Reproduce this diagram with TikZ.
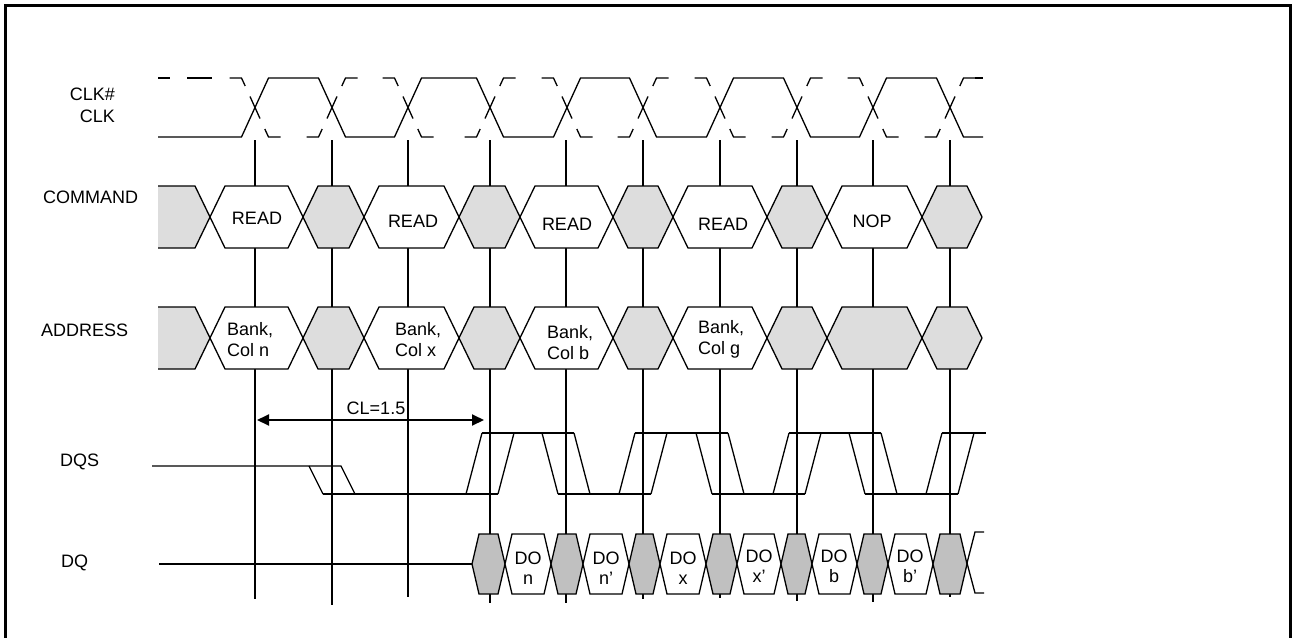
\documentclass[tikz,border=0pt]{standalone}
\usepackage{fontspec}
\setmainfont{Liberation Sans}
\usetikzlibrary{arrows.meta}
\definecolor{cmdgray}{RGB}{221,221,221}
\definecolor{dqgray}{RGB}{192,192,192}
% hexagon: x1, x2, ytop, ybot, slant, fill
\newcommand{\tdhex}[6]{%
  \filldraw[wave, fill=#6] (#1,{(#3+#4)/2}) -- ({#1+#5},#3) -- ({#2-#5},#3) -- (#2,{(#3+#4)/2}) -- ({#2-#5},#4) -- ({#1+#5},#4) -- cycle;}
\begin{document}
\begin{tikzpicture}[x=1pt,y=-1pt,
  wave/.style={line width=1.3pt, line join=miter},
  gridline/.style={line width=2pt},
  lbl/.style={font=\fontsize{18}{20}\selectfont, inner sep=0pt},
  frameline/.style={line width=3.2pt}]
\useasboundingbox (0,0) rectangle (1292,637);
% frame
\draw[frameline] (5.5,645) -- (5.5,5.5) -- (1290.5,5.5) -- (1290.5,645);

% signal names
\node[lbl, anchor=base east] (nclkn) at (115,100) {CLK\#};
\node[lbl, anchor=base east] (nclk) at (115,122) {CLK};
\node[lbl, anchor=base west] (ncmd) at (43,203) {COMMAND};
\node[lbl, anchor=base west] (nadr) at (41,336) {ADDRESS};
\node[lbl, anchor=base west] (ndqs) at (60,466) {DQS};
\node[lbl, anchor=base west] (ndq) at (61,567) {DQ};

% vertical clock-edge lines
\foreach \x/\e in {255/599,332/605,408/597,490/603,566/603,643/599,720/598,797/601,873/602,950/597}
  \draw[gridline] (\x,140) -- (\x,\e);

% CLK
\draw[wave] (158,137) -- (241.5,137) -- (268.5,78) -- (318.5,78) -- (345.5,137) -- (394.5,137)
  -- (421.5,78) -- (476.5,78) -- (503.5,137) -- (553.5,137) -- (580.5,78) -- (629.5,78)
  -- (656.5,137) -- (706.5,137) -- (733.5,78) -- (783.5,78) -- (810.5,137) -- (859.5,137)
  -- (886.5,78) -- (936.5,78) -- (963.5,137) -- (983,137);
% CLK# (dashed)
\draw[wave] (158,78) -- (170,78);
\draw[wave] (187,78) -- (212,78);
\foreach \c/\s in {255/1,332/-1,408/1,490/-1,567/1,643/-1,720/1,797/-1,873/1,950/-1}{
  \draw[wave] ({\c-5},{107.5-\s*11}) -- ({\c+5},{107.5+\s*11});
  \draw[wave] ({\c+9.8},{107.5+\s*21.5}) -- ({\c+13.5},{107.5+\s*29.5}) -- ({\c+25.5},{107.5+\s*29.5});
  \draw[wave] ({\c-25.5},{107.5-\s*29.5}) -- ({\c-13.5},{107.5-\s*29.5}) -- ({\c-9.8},{107.5-\s*21.5});
}
\draw[wave] (975,78) -- (983,78);

% COMMAND row
\fill[cmdgray] (158,186) -- (195,186) -- (210,217) -- (195,248) -- (158,248) -- cycle;
\draw[wave] (158,186) -- (195,186) -- (210,217) -- (195,248) -- (158,248);
\tdhex{210}{303}{186}{248}{15}{white}
\tdhex{303}{364}{186}{248}{15}{cmdgray}
\tdhex{364}{459}{186}{248}{15}{white}
\tdhex{459}{520}{186}{248}{15}{cmdgray}
\tdhex{520}{613}{186}{248}{15}{white}
\tdhex{613}{673}{186}{248}{15}{cmdgray}
\tdhex{673}{767}{186}{248}{15}{white}
\tdhex{767}{827}{186}{248}{15}{cmdgray}
\tdhex{827}{922}{186}{248}{15}{white}
\tdhex{922}{982}{186}{248}{15}{cmdgray}
\node[lbl, anchor=base] (c1) at (257,224) {READ};
\node[lbl, anchor=base] (c2) at (413,227) {READ};
\node[lbl, anchor=base] (c3) at (567,230) {READ};
\node[lbl, anchor=base] (c4) at (723,230) {READ};
\node[lbl, anchor=base] (c5) at (872,227) {NOP};

% ADDRESS row
\fill[cmdgray] (158,307) -- (195,307) -- (210,338) -- (195,369) -- (158,369) -- cycle;
\draw[wave] (158,307) -- (195,307) -- (210,338) -- (195,369) -- (158,369);
\tdhex{210}{303}{307}{369}{15}{white}
\tdhex{303}{364}{307}{369}{15}{cmdgray}
\tdhex{364}{459}{307}{369}{15}{white}
\tdhex{459}{520}{307}{369}{15}{cmdgray}
\tdhex{520}{613}{307}{369}{15}{white}
\tdhex{613}{673}{307}{369}{15}{cmdgray}
\tdhex{673}{767}{307}{369}{15}{white}
\tdhex{767}{827}{307}{369}{15}{cmdgray}
\tdhex{827}{922}{307}{369}{15}{cmdgray}
\tdhex{922}{982}{307}{369}{15}{cmdgray}
\node[lbl, anchor=base west] (a1a) at (227,335) {Bank,};
\node[lbl, anchor=base west] (a1b) at (227,356) {Col n};
\node[lbl, anchor=base west] (a2a) at (395,335) {Bank,};
\node[lbl, anchor=base west] (a2b) at (395,356) {Col x};
\node[lbl, anchor=base west] (a3a) at (547,338) {Bank,};
\node[lbl, anchor=base west] (a3b) at (547,359) {Col b};
\node[lbl, anchor=base west] (a4a) at (698,333) {Bank,};
\node[lbl, anchor=base west] (a4b) at (698,354) {Col g};

% CL arrow
\coordinate (cll) at (257,420);
\coordinate (clr) at (484,420);
\draw[line width=2pt, {Triangle[length=12pt,width=11pt]}-{Triangle[length=12pt,width=11pt]}] (cll) -- (clr);
\node[lbl, anchor=base] (cl) at (376,414) {CL=1.5};

% DQS
\draw[wave] (152,466) -- (341,466) -- (355,494);
\draw[wave] (309,466) -- (323,494);
\draw[wave] (323,494) -- (498,494);
% rising 490
\draw[wave] (466,494) -- (482,433);
\draw[wave] (498,494) -- (514,433);
\draw[wave] (482,433) -- (574,433);
% falling 566
\draw[wave] (542,433) -- (558,494);
\draw[wave] (574,433) -- (590,494);
\draw[wave] (558,494) -- (651,494);
% rising 643
\draw[wave] (619,494) -- (635,433);
\draw[wave] (651,494) -- (667,433);
\draw[wave] (635,433) -- (728,433);
% falling 720
\draw[wave] (696,433) -- (712,494);
\draw[wave] (728,433) -- (744,494);
\draw[wave] (712,494) -- (805,494);
% rising 797
\draw[wave] (773,494) -- (789,433);
\draw[wave] (805,494) -- (821,433);
\draw[wave] (789,433) -- (881,433);
% falling 873
\draw[wave] (849,433) -- (865,494);
\draw[wave] (881,433) -- (897,494);
\draw[wave] (865,494) -- (958,494);
% rising 950
\draw[wave] (926,494) -- (942,433);
\draw[wave] (958,494) -- (974,433);
\draw[wave] (942,433) -- (986,433);

% DQ
\draw[gridline] (159,564) -- (472,564);
\tdhex{472}{505}{534}{594}{7}{dqgray}
\tdhex{505}{551}{534}{594}{7}{white}
\tdhex{551}{583}{534}{594}{7}{dqgray}
\tdhex{583}{629}{534}{594}{7}{white}
\tdhex{629}{660}{534}{594}{7}{dqgray}
\tdhex{660}{706}{534}{594}{7}{white}
\tdhex{706}{737}{534}{594}{7}{dqgray}
\tdhex{737}{781}{534}{594}{7}{white}
\tdhex{781}{812}{534}{594}{7}{dqgray}
\tdhex{812}{857}{534}{594}{7}{white}
\tdhex{857}{888}{534}{594}{7}{dqgray}
\tdhex{888}{933}{534}{594}{7}{white}
\tdhex{933}{967}{534}{594}{7}{dqgray}
\draw[wave] (984,532) -- (975,532) -- (967,563) -- (975,593) -- (984,593);
\node[lbl, align=center] (d1) at (528,568) {DO\\n};
\node[lbl, align=center] (d2) at (606,568) {DO\\n'};
\node[lbl, align=center] (d3) at (683,568) {DO\\x};
\node[lbl, align=center] (d4) at (759,566) {DO\\x'};
\node[lbl, align=center] (d5) at (834,566) {DO\\b};
\node[lbl, align=center] (d6) at (910,566) {DO\\b'};
\end{tikzpicture}
\end{document}
